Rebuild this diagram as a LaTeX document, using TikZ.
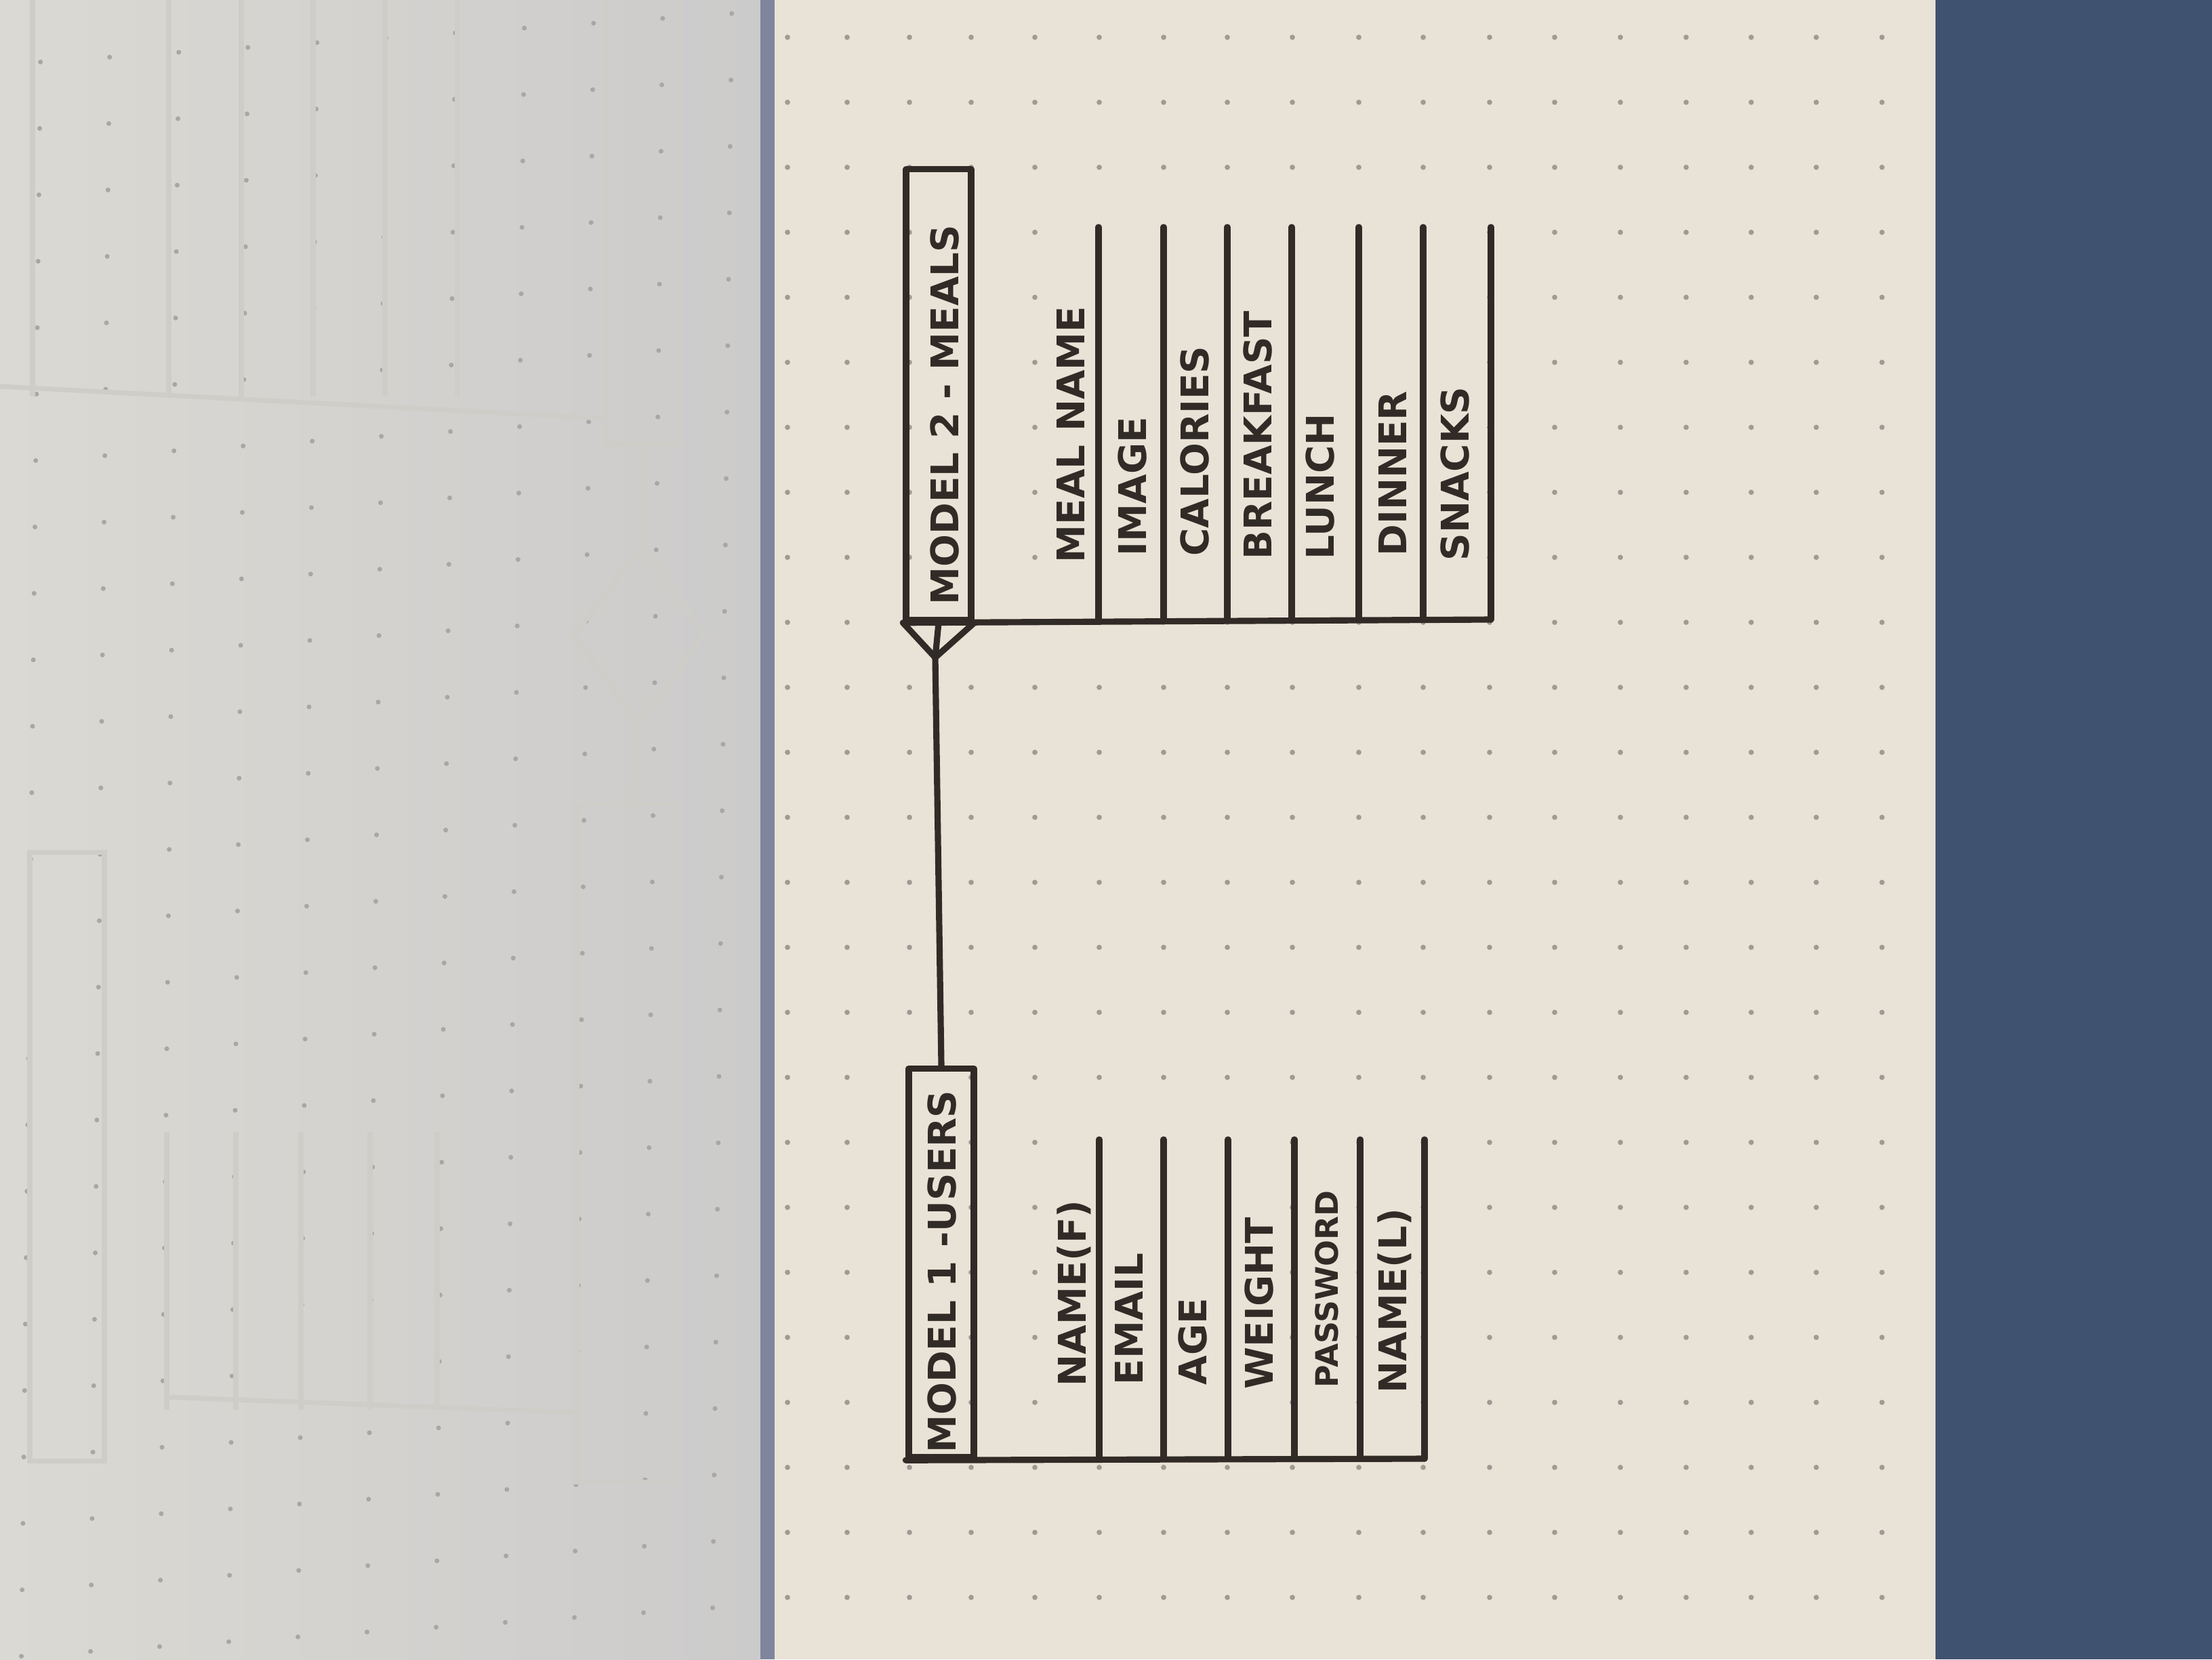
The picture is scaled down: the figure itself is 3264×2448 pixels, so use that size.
\documentclass[tikz,border=0pt]{standalone}
\usepackage{fontspec}
\setmainfont{DejaVu Sans}
\usepackage{xcolor}

\definecolor{inkc}{RGB}{48,43,38}
\definecolor{paperR}{RGB}{233,226,214}
\definecolor{paperL}{RGB}{219,217,211}
\definecolor{paperLdark}{RGB}{204,203,203}
\definecolor{ghostc}{RGB}{206,205,200}
\definecolor{gutterc}{RGB}{128,133,158}
\definecolor{deskc}{RGB}{63,82,111}
\definecolor{dotc}{RGB}{160,154,148}
\definecolor{dotL}{RGB}{168,167,165}

\begin{document}
\begin{tikzpicture}[x=0.01cm,y=0.01cm,
  ink/.style={draw=inkc,line width=2.6pt,line cap=round,line join=round},
  ghost/.style={draw=ghostc,line width=2pt},
  entity/.style={ink,rectangle,inner sep=0pt,minimum width=0.96cm},
  label/.style={text=inkc,font=\fontsize{16}{18}\selectfont\bfseries,rotate=90,inner sep=0pt},
  field/.style={label,anchor=west}]

% desk, pages, gutter
\useasboundingbox (0,0) rectangle (3264,-2448);
\fill[deskc] (0,0) rectangle (3264,-2448);
\shade[left color=paperL,right color=paperLdark] (0,0) rectangle (1122,-2448);
\fill[gutterc] (1122,0) rectangle (1143,-2448);
\fill[paperR] (1143,0) rectangle (2856,-2448);

% dot grid
\foreach \j in {0,...,10}
  \foreach \k in {0,...,24}
    \fill[dotL] ({1080-102*\j-0.012*(20+98*\k)},{-20-98*\k-0.07*102*\j}) circle (1pt);
\foreach \x in {1162,1250,1342,1433,1527,1622,1717,1811,1907,2005,2100,2198,2294,2391,2488,2584,2680,2777}
  \foreach \k in {0,...,24}
    \fill[dotc] (\x,{-55-95.9*\k}) circle (1.1pt);

% what shows through from the other side
\draw[ghost] (895,0) -- (895,-656) -- (1001,-656) -- (1001,0);
\draw[ghost] (0,-570) -- (888,-617);
\draw[ghost] (946,-656) -- (950,-804);
\draw[ghost] (950,-804) -- (1038,-937) -- (942,-1069) -- (847,-937) -- cycle;
\draw[ghost] (942,-1069) -- (935,-1187);
\draw[ghost] (851,-1187) rectangle (994,-2186);
\draw[ghost] (246,-2061) -- (851,-2084);
\draw[ghost] (44,-1257) rectangle (154,-2155);
\foreach \x in {48,249,356,462,568,675}
  \draw[ghost] (\x,0) -- (\x,-585);
\foreach \x in {246,348,444,546,645}
  \draw[ghost] (\x,-1670) -- (\x,-2080);

% model 2 - meals
\node[entity,minimum height=6.64cm] (meals) at (1385,-582) {};
\node[label] (mealsTitle) at (1394,-612) {MODEL 2 - MEALS};
\coordinate (mealsEnd) at (2200,-914);
\draw[ink] (meals.south west) -- (mealsEnd);
\foreach \x in {1621,1717,1811,1906,2005,2100,2200}
  \draw[ink] (\x,-335) -- (\x,-914);
\foreach \x/\y/\t [count=\i] in {1580/831/MEAL NAME,1671/821/IMAGE,1763/821/CALORIES,1856/826/BREAKFAST,1948/826/LUNCH,2055/821/DINNER,2147/828/SNACKS}
  \node[field] (meal\i) at (\x,-\y) {\t};

% model 1 - users
\node[entity,minimum height=5.73cm] (users) at (1389,-1863) {};
\node[label] (usersTitle) at (1390,-1876) {MODEL 1 -USERS};
\coordinate (usersEnd) at (2102,-2152);
\draw[ink] (users.south west) -- (usersEnd);
\foreach \x in {1622,1717,1812,1910,2007,2102}
  \draw[ink] (\x,-1681) -- (\x,-2152);
\foreach \x/\y/\t [count=\i] in {1585/2046/NAME(F),1666/2044/EMAIL,1760/2044/AGE,1858/2050/WEIGHT,1958/2048/{\fontsize{13}{15}\selectfont PASSWORD},2058/2056/NAME(L)}
  \node[field] (user\i) at (\x,-\y) {\t};

% one user, many meals
\coordinate (crow) at (1380,-970);
\draw[ink] (meals.south west) -- (crow) -- (meals.south east);
\draw[ink] (meals.south) -- (crow) -- (users.north);
\end{tikzpicture}
\end{document}
